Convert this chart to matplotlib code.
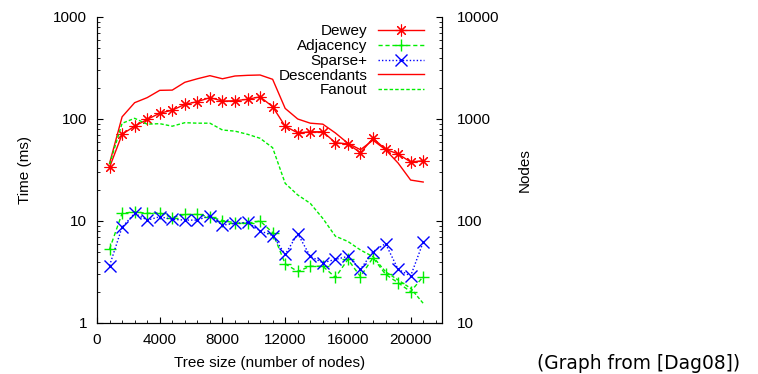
import matplotlib
matplotlib.use('Agg')
import matplotlib.pyplot as plt
from matplotlib.ticker import FixedLocator, MultipleLocator, LogLocator, NullFormatter

plt.rcParams['font.family'] = ['Liberation Sans', 'DejaVu Sans']

# tree size (number of nodes)
tree_size = [800, 1600, 2400, 3200, 4000, 4800, 5600, 6400, 7200, 8000, 8800, 9600, 10400,
             11200, 12000, 12800, 13600, 14400, 15200, 16000, 16800, 17600, 18400, 19200,
             20000, 20800]

# time (ms), left axis
dewey = [33.6, 70.8, 85, 99, 114, 122, 139, 148, 162, 150, 151, 156, 165,
         132, 85, 73, 75, 75, 58.6, 57, 46.7, 64.7, 50.5, 45.4, 37.9, 39]
adjacency = [5.3, 11.9, 12.3, 11.9, 12, 10.8, 11.6, 11.6, 11, 10.1, 9.6, 9.5, 10,
             7.7, 3.8, 3.2, 3.6, 3.6, 2.8, 4.2, 2.85, 4.37, 3.0, 2.48, 2.03, 2.85]
sparse = [3.65, 8.7, 11.9, 10.2, 11, 10.4, 10.2, 10.2, 11.3, 9.1, 9.5, 9.7, 8.0,
          7.2, 4.7, 7.5, 4.5, 3.9, 4.2, 4.5, 3.36, 5.0, 6.0, 3.36, 2.89, 6.2]

# nodes, right axis
descendants = [367, 1050, 1445, 1620, 1910, 1920, 2290, 2480, 2660, 2480, 2640, 2680, 2700,
               2450, 1270, 1000, 910, 890, 730, 578, 500, 620, 500, 370, 252, 241]
fanout = [360, 907, 1016, 890, 900, 850, 920, 910, 910, 780, 760, 708, 647,
          523, 234, 180, 149, 106, 71, 63, 52, 44.7, 31.8, 26.4, 21.9, 15.6]

red = '#ff0000'
green = '#00ee00'
blue = '#0000ff'

fig = plt.figure(figsize=(7.58, 3.74), dpi=100)
ax = fig.add_axes([97 / 758, 51 / 374, 345 / 758, 306 / 374])
ax2 = ax.twinx()

l1, = ax.plot(tree_size, dewey, color=red, lw=1, marker=(8, 2, 0), ms=8.5, mew=0.8, label='Dewey')
l2, = ax.plot(tree_size, adjacency, color=green, lw=1, ls=(0, (3, 2)), marker='+', ms=9, mew=1,
              label='Adjacency')
l3, = ax.plot(tree_size, sparse, color=blue, lw=1, ls=(0, (1, 1.5)), marker='x', ms=8, mew=1,
              label='Sparse+')
l4, = ax2.plot(tree_size, descendants, color=red, lw=1, label='Descendants')
l5, = ax2.plot(tree_size, fanout, color=green, lw=1, ls=(0, (2.5, 1.5)), label='Fanout')

ax.set_yscale('log')
ax.set_ylim(1, 1000)
ax.set_xlim(0, 22000)
ax2.set_yscale('log')
ax2.set_ylim(10, 10000)

ax.xaxis.set_major_locator(MultipleLocator(4000))
ax.xaxis.set_minor_locator(MultipleLocator(800))
ax.yaxis.set_major_locator(FixedLocator([1, 10, 100, 1000]))
ax.yaxis.set_minor_locator(LogLocator(base=10, subs=range(2, 10)))
ax.yaxis.set_minor_formatter(NullFormatter())
ax.set_yticklabels(['1', '10', '100', '1000'])
ax2.yaxis.set_major_locator(FixedLocator([10, 100, 1000, 10000]))
ax2.yaxis.set_minor_locator(LogLocator(base=10, subs=range(2, 10)))
ax2.yaxis.set_minor_formatter(NullFormatter())
ax2.set_yticklabels(['10', '100', '1000', '10000'])

for a in (ax, ax2):
    a.spines['top'].set_visible(False)
    a.tick_params(which='both', direction='in', labelsize=11, top=False)
    a.tick_params(which='major', length=4, width=0.8)
    a.tick_params(which='minor', length=2.2, width=0.6)
ax.tick_params(axis='y', right=False, pad=7)
ax.tick_params(axis='x', pad=7)
ax2.tick_params(axis='y', left=False, pad=11)

ax.set_xlabel('Tree size (number of nodes)', fontsize=11, labelpad=7)
ax.set_ylabel('Time (ms)', fontsize=11, labelpad=15)
ax2.set_ylabel('Nodes', fontsize=11, labelpad=13)

leg = ax2.legend(handles=[l1, l2, l3, l4, l5], loc='upper right', bbox_to_anchor=(0.948, 0.976),
                 frameon=False, markerfirst=False, numpoints=1, fontsize=11,
                 handlelength=3.0, handletextpad=0.7, labelspacing=0.05,
                 borderpad=0, borderaxespad=0)

fig.text(0.977, 0.029, '(Graph from [Dag08])', ha='right', va='center', fontsize=13.4,
         family=['DejaVu Sans'])

fig.savefig('out.png', dpi=100)
